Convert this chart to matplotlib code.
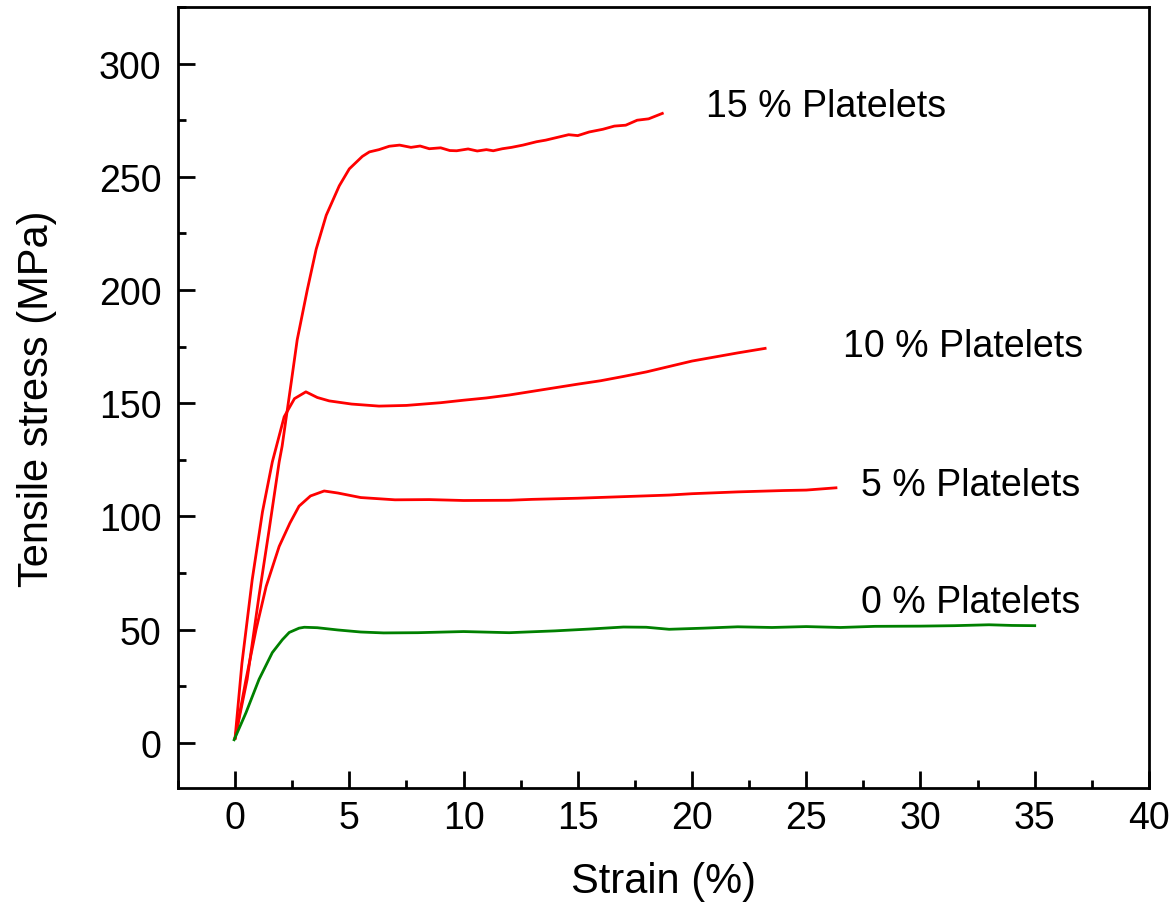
import matplotlib
matplotlib.use("Agg")
import matplotlib.pyplot as plt
from matplotlib.ticker import MultipleLocator

plt.rcParams['font.family'] = ['Liberation Sans', 'DejaVu Sans']

# Strain (%) / stress (MPa)
strain_15 = [0.0, 0.53, 1.05, 1.49, 1.93, 2.06, 2.47, 2.72, 3.16, 3.55, 3.99, 4.56, 5.0, 5.57, 5.88, 6.3,
             6.75, 7.2, 7.7, 8.1, 8.5, 9.0, 9.4, 9.7, 10.2, 10.6, 11.0, 11.3, 11.7, 12.1, 12.6, 13.2,
             13.6, 14.1, 14.6, 15.0, 15.5, 16.1, 16.6, 17.1, 17.6, 18.1, 18.7]
stress_15 = [2.0, 28.0, 65.0, 94.0, 124.0, 131.0, 160.0, 178.0, 200.0, 218.0, 233.0, 246.0, 253.5, 259.0, 261.0, 262.0,
             263.5, 264.0, 263.0, 263.6, 262.4, 262.8, 261.6, 261.5, 262.3, 261.4, 262.0, 261.5, 262.4, 263.0, 264.0, 265.5,
             266.2, 267.4, 268.6, 268.2, 269.8, 271.0, 272.4, 272.8, 275.0, 275.6, 278.0]

strain_10 = [0.0, 0.3, 0.75, 1.2, 1.63, 2.15, 2.6, 3.1, 3.6, 4.12, 5.1, 6.3, 7.5, 9.0, 10.0, 11.0,
             12.0, 13.0, 14.0, 15.0, 16.0, 17.0, 18.0, 19.0, 20.0, 21.0, 22.0, 23.2]
stress_10 = [2.0, 35.0, 72.0, 102.0, 124.0, 144.0, 152.0, 155.0, 152.5, 151.0, 149.6, 148.7, 149.0, 150.2, 151.3, 152.3,
             153.6, 155.2, 156.8, 158.4, 159.9, 161.8, 163.8, 166.2, 168.6, 170.4, 172.2, 174.2]

strain_5 = [0.0, 0.48, 0.92, 1.36, 1.93, 2.4, 2.8, 3.3, 3.9, 4.5, 5.5, 7.0, 8.5, 10.0, 12.0, 13.0,
            15.0, 17.0, 19.0, 20.0, 22.0, 24.0, 25.0, 26.3]
stress_5 = [2.0, 28.0, 50.0, 69.0, 86.7, 97.0, 104.5, 109.0, 111.2, 110.3, 108.3, 107.3, 107.4, 107.0, 107.1, 107.5,
            108.0, 108.7, 109.4, 110.0, 110.8, 111.4, 111.6, 112.6]

strain_0 = [-0.04, 0.48, 1.05, 1.63, 2.07, 2.37, 2.8, 3.03, 3.6, 4.5, 5.5, 6.5, 8.0, 10.0, 12.0, 14.0,
            15.5, 17.0, 18.0, 19.0, 20.5, 22.0, 23.5, 25.0, 26.5, 28.0, 30.0, 31.5, 33.0, 34.0, 35.0]
stress_0 = [1.3, 13.3, 28.0, 39.8, 45.5, 48.7, 50.6, 51.0, 50.8, 49.8, 48.9, 48.5, 48.6, 49.1, 48.6, 49.4,
            50.2, 51.1, 51.0, 50.1, 50.6, 51.2, 50.9, 51.3, 50.9, 51.4, 51.5, 51.7, 52.1, 51.8, 51.7]

labels = ["15 % Platelets", "10 % Platelets", "5 % Platelets", "0 % Platelets"]
label_x = [20.6, 26.6, 27.4, 27.4]
label_y = [281.4, 175.2, 113.7, 62.0]

fig = plt.figure(figsize=(11.73, 9.12), dpi=100)
ax = fig.add_axes([0.1517, 0.1349, 0.8278, 0.8563])

ax.plot(strain_15, stress_15, color='#ff0000', lw=2)
ax.plot(strain_10, stress_10, color='#ff0000', lw=2)
ax.plot(strain_5, stress_5, color='#ff0000', lw=2)
ax.plot(strain_0, stress_0, color='#008000', lw=2)

for t, x, y in zip(labels, label_x, label_y):
    ax.text(x, y, t, fontsize=27, ha='left', va='center')

ax.set_xlim(-2.5, 40)
ax.set_ylim(-20, 325)
ax.xaxis.set_major_locator(MultipleLocator(5))
ax.xaxis.set_minor_locator(MultipleLocator(2.5))
ax.yaxis.set_major_locator(MultipleLocator(50))
ax.yaxis.set_minor_locator(MultipleLocator(25))

ax.tick_params(which='major', direction='in', length=12, width=2, labelsize=27)
ax.tick_params(axis='x', which='major', pad=9)
ax.tick_params(axis='y', which='major', pad=12)
ax.tick_params(which='minor', direction='in', length=6, width=2)
for s in ax.spines.values():
    s.set_linewidth(2)

ax.set_xlabel('Strain (%)', fontsize=30, labelpad=18)
ax.set_ylabel('Tensile stress (MPa)', fontsize=30, labelpad=30)

fig.savefig('out.png', dpi=100)
